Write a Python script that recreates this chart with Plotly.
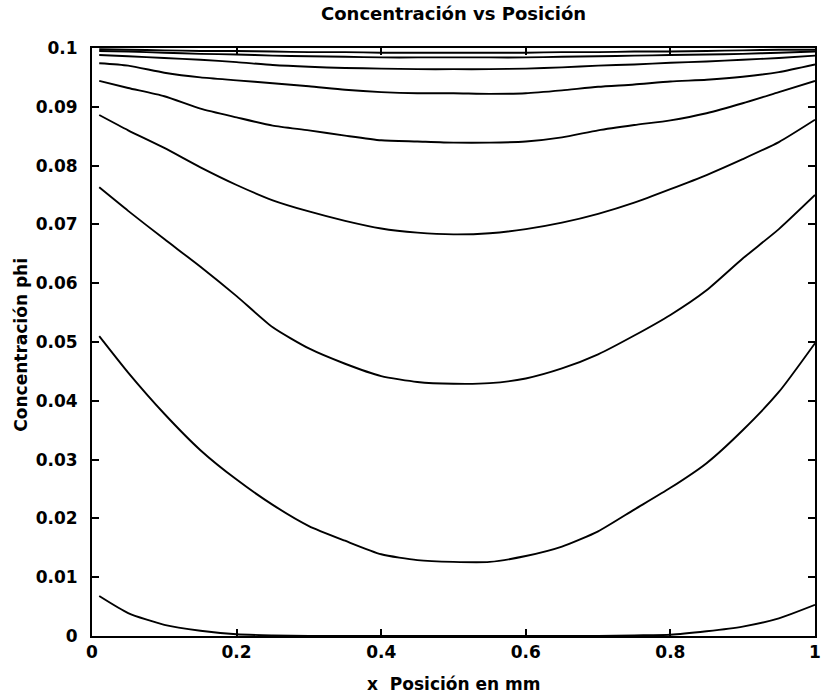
import plotly.graph_objects as go

x = [0.01, 0.05, 0.10, 0.15, 0.20, 0.25, 0.30, 0.35, 0.40, 0.45, 0.50,
     0.55, 0.60, 0.65, 0.70, 0.75, 0.80, 0.85, 0.90, 0.95, 1.00]

phi_1 = [0.0068, 0.0039, 0.0019, 0.0009, 0.0003, 0.0001, 0.0000, 0.0000, 0.0000, 0.0000, 0.0000,
         0.0000, 0.0000, 0.0000, 0.0000, 0.0001, 0.0002, 0.0008, 0.0016, 0.0030, 0.0053]
phi_2 = [0.0510, 0.0448, 0.0378, 0.0316, 0.0266, 0.0223, 0.0187, 0.0162, 0.0139, 0.0129, 0.0126,
         0.0126, 0.0136, 0.0152, 0.0178, 0.0215, 0.0252, 0.0294, 0.0350, 0.0415, 0.0498]
phi_3 = [0.0763, 0.0723, 0.0675, 0.0628, 0.0578, 0.0525, 0.0489, 0.0463, 0.0442, 0.0432, 0.0429,
         0.0430, 0.0438, 0.0455, 0.0479, 0.0511, 0.0546, 0.0588, 0.0642, 0.0692, 0.0750]
phi_4 = [0.0886, 0.0860, 0.0830, 0.0797, 0.0767, 0.0741, 0.0722, 0.0706, 0.0693, 0.0686, 0.0683,
         0.0685, 0.0692, 0.0703, 0.0718, 0.0737, 0.0760, 0.0784, 0.0811, 0.0840, 0.0878]
phi_5 = [0.0944, 0.0932, 0.0918, 0.0897, 0.0882, 0.0868, 0.0860, 0.0851, 0.0843, 0.0841, 0.0839,
         0.0839, 0.0841, 0.0848, 0.0860, 0.0869, 0.0877, 0.0889, 0.0906, 0.0925, 0.0944]
phi_6 = [0.0974, 0.0970, 0.0958, 0.0950, 0.0945, 0.0940, 0.0935, 0.0929, 0.0925, 0.0923, 0.0923,
         0.0922, 0.0923, 0.0928, 0.0934, 0.0938, 0.0943, 0.0946, 0.0951, 0.0959, 0.0972]
phi_7 = [0.0988, 0.0986, 0.0983, 0.0980, 0.0976, 0.0971, 0.0968, 0.0966, 0.0965, 0.0964, 0.0964,
         0.0964, 0.0965, 0.0967, 0.0970, 0.0972, 0.0975, 0.0977, 0.0980, 0.0983, 0.0987]
phi_8 = [0.0995, 0.0994, 0.0992, 0.0990, 0.0989, 0.0987, 0.0986, 0.0985, 0.0984, 0.0984, 0.0984,
         0.0984, 0.0984, 0.0985, 0.0986, 0.0987, 0.0988, 0.0989, 0.0990, 0.0992, 0.0994]
phi_9 = [0.0998, 0.0997, 0.0996, 0.0995, 0.0995, 0.0994, 0.0993, 0.0993, 0.0992, 0.0992, 0.0992,
         0.0992, 0.0992, 0.0993, 0.0993, 0.0994, 0.0994, 0.0995, 0.0996, 0.0997, 0.0997]

series = [phi_1, phi_2, phi_3, phi_4, phi_5, phi_6, phi_7, phi_8, phi_9]

x_ticks = [0, 0.2, 0.4, 0.6, 0.8, 1.0]
x_tick_labels = ["0", "0.2", "0.4", "0.6", "0.8", "1"]
y_ticks = [0, 0.01, 0.02, 0.03, 0.04, 0.05, 0.06, 0.07, 0.08, 0.09, 0.1]
y_tick_labels = ["0", "0.01", "0.02", "0.03", "0.04", "0.05", "0.06", "0.07", "0.08", "0.09", "0.1"]

title_text = "Concentración vs Posición"
x_label = "x  Posición en mm"
y_label = "Concentración phi"

FONT = "DejaVu Sans"

fig = go.Figure()
for s in series:
    fig.add_trace(go.Scatter(x=x, y=s, mode="lines",
                             line=dict(color="black", width=1.9, shape="spline", smoothing=0.6),
                             showlegend=False, hoverinfo="skip"))

axis_common = dict(showgrid=False, zeroline=False, showline=True, linecolor="black",
                   linewidth=2, mirror="ticks", ticks="inside", ticklen=7,
                   tickwidth=1.5, tickcolor="black",
                   tickfont=dict(family=FONT, size=17, color="black", weight="bold"))

fig.update_xaxes(range=[0, 1], tickvals=x_ticks, ticktext=x_tick_labels,
                 ticklabelstandoff=0, **axis_common)
fig.update_yaxes(range=[0, 0.1], tickvals=y_ticks, ticktext=y_tick_labels,
                 ticklabelstandoff=9, **axis_common)

fig.add_annotation(text=title_text, xref="paper", yref="paper", x=0.5, y=1.058,
                   xanchor="center", yanchor="middle", showarrow=False,
                   font=dict(family=FONT, size=18, color="black", weight="bold"))
fig.add_annotation(text=x_label, xref="paper", yref="paper", x=0.5, y=-0.0816,
                   xanchor="center", yanchor="middle", showarrow=False,
                   font=dict(family=FONT, size=17, color="black", weight="bold"))
fig.add_annotation(text=y_label, xref="paper", yref="paper", x=-0.0986, y=0.495,
                   xanchor="center", yanchor="middle", showarrow=False, textangle=-90,
                   font=dict(family=FONT, size=17, color="black", weight="bold"))

fig.update_layout(width=825, height=695, paper_bgcolor="white", plot_bgcolor="white",
                  margin=dict(l=92, r=4, t=48, b=59))

fig.write_html("out.html")
